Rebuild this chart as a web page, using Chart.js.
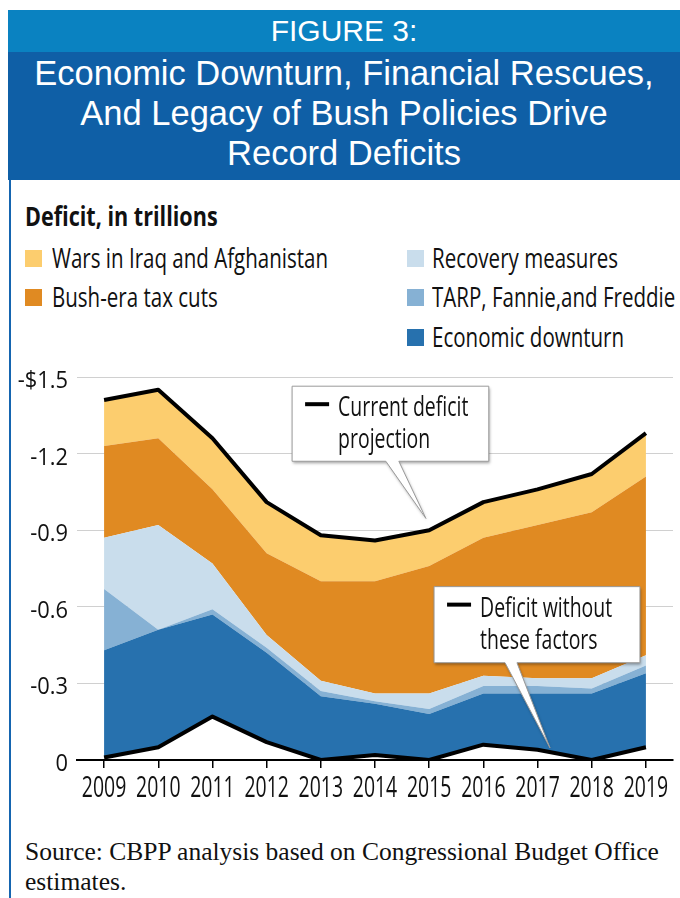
<!DOCTYPE html>
<html>
<head>
<meta charset="utf-8">
<script src="https://cdn.jsdelivr.net/npm/chart.js@4.4.0/dist/chart.umd.min.js"></script>
<style>
  body { margin: 0; width: 680px; height: 898px; position: relative; background: #fff; overflow: hidden;
         font-family: "Open Sans", sans-serif; color: #111; }
  .band1 { position: absolute; left: 8px; top: 10px; width: 672px; height: 42px; background: #0a82c1; color: #fff;
           text-align: center; font-family: "Liberation Sans", Arial, sans-serif; font-size: 30px; line-height: 42px; }
  .band2 { position: absolute; left: 8px; top: 52px; width: 672px; height: 128px; background: #0f5fa6; color: #fff;
           text-align: center; font-family: "Liberation Sans", Arial, sans-serif; font-size: 34.5px; line-height: 40px;
           padding-top: 1px; box-sizing: border-box; }
  .rule { position: absolute; left: 9px; top: 180px; width: 2px; height: 718px; background: #1565b0; }
  .txt { position: absolute; white-space: nowrap; line-height: 30px; transform-origin: 0 0; }
  .units { left: 25px; top: 201px; font-weight: bold; font-size: 26px; transform: scaleX(0.83); }
  .leg { font-size: 27px; transform: scaleX(0.76); }
  .sw { position: absolute; width: 17px; height: 17px; }
  .chartbox { position: absolute; left: 0; top: 360px; width: 680px; height: 450px; }
  .source { position: absolute; left: 25px; top: 837px; font-family: "Liberation Serif", serif; font-size: 25.5px; line-height: 30px; }
</style>
</head>
<body>
<div class="band1">FIGURE 3:</div>
<div class="band2">Economic Downturn, Financial Rescues,<br>And Legacy of Bush Policies Drive<br>Record Deficits</div>
<div class="rule"></div>
<div class="txt units">Deficit, in trillions</div>
<div class="sw" style="left:25px;top:250px;background:#fccd6e"></div>
<div class="txt leg" style="left:52px;top:243px">Wars in Iraq and Afghanistan</div>
<div class="sw" style="left:25px;top:289px;background:#e08a22"></div>
<div class="txt leg" style="left:52px;top:282px">Bush-era tax cuts</div>
<div class="sw" style="left:407px;top:250px;background:#c9ddec"></div>
<div class="txt leg" style="left:432px;top:243px">Recovery measures</div>
<div class="sw" style="left:407px;top:289px;background:#86b1d4"></div>
<div class="txt leg" style="left:432px;top:282px">TARP, Fannie,and Freddie</div>
<div class="sw" style="left:407px;top:329px;background:#2771ae"></div>
<div class="txt leg" style="left:432px;top:322px">Economic downturn</div>
<div class="chartbox"><canvas id="chart"></canvas></div>
<div class="source">Source: CBPP analysis based on Congressional Budget Office<br>estimates.</div>
<script>
// deficit pieces, trillions of dollars (shown as negative on the axis)
var years = ['2009', '2010', '2011', '2012', '2013', '2014', '2015', '2016', '2017', '2018', '2019'];
var currentDeficit = [1.41, 1.45, 1.26, 1.01, 0.88, 0.86, 0.90, 1.01, 1.06, 1.12, 1.28];
var withoutFactors = [0.01, 0.05, 0.17, 0.07, 0.00, 0.02, 0.00, 0.06, 0.04, 0.00, 0.05];
var downturn = [0.42, 0.46, 0.40, 0.35, 0.25, 0.20, 0.18, 0.20, 0.22, 0.26, 0.29];
var tarp = [0.24, 0.00, 0.02, 0.02, 0.02, 0.01, 0.02, 0.03, 0.03, 0.02, 0.03];
var recovery = [0.20, 0.41, 0.18, 0.05, 0.04, 0.03, 0.06, 0.04, 0.03, 0.04, 0.04];
var taxCuts = [0.36, 0.34, 0.29, 0.32, 0.39, 0.44, 0.50, 0.54, 0.60, 0.65, 0.70];
var wars = [0.18, 0.19, 0.20, 0.20, 0.18, 0.16, 0.14, 0.14, 0.14, 0.15, 0.17];
var yTickLabels = ['0', '-0.3', '-0.6', '-0.9', '-1.2', '-$1.5'];

var fontFamily = '"Open Sans", sans-serif';

// callout boxes, in category index / value units
var callouts = [
    { lines: ['Current deficit', 'projection'], left: 3.47, right: 7.10, top: 1.464, bottom: 1.170,
      baseL: 5.20, baseR: 5.44, tipX: 5.94, tipY: 0.946 },
    { lines: ['Deficit without', 'these factors'], left: 6.09, right: 9.89, top: 0.679, bottom: 0.381,
      baseL: 7.40, baseR: 7.62, tipX: 8.23, tipY: 0.047 }
];

// the source uses a condensed face, so squeeze the text sideways
function condText(ctx, text, x, y, size, sx, align) {
    ctx.save();
    ctx.translate(x, y);
    ctx.scale(sx, 1);
    ctx.font = size + 'px ' + fontFamily;
    ctx.fillStyle = '#111';
    ctx.textAlign = align || 'left';
    ctx.textBaseline = 'alphabetic';
    ctx.fillText(text, 0, 0);
    ctx.restore();
}

var axisLabels = {
    id: 'axisLabels',
    afterDraw: function(chart) {
        var ctx = chart.ctx, xs = chart.scales.x, ys = chart.scales.y;
        xs.ticks.forEach(function(t, i) {
            condText(ctx, xs.getLabelForValue(t.value), xs.getPixelForTick(i), xs.top + 37, 29, 0.67, 'center');
        });
        ys.ticks.forEach(function(t, i) {
            condText(ctx, yTickLabels[i], ys.left + 68, ys.getPixelForTick(i) + 11, 23, 0.95, 'right');
        });
    }
};

var calloutPlugin = {
    id: 'callouts',
    afterDatasetsDraw: function(chart) {
        var ctx = chart.ctx, xs = chart.scales.x, ys = chart.scales.y;
        callouts.forEach(function(c) {
            var l = xs.getPixelForValue(c.left), r = xs.getPixelForValue(c.right);
            var t = ys.getPixelForValue(c.top), b = ys.getPixelForValue(c.bottom);
            var bl = xs.getPixelForValue(c.baseL), br = xs.getPixelForValue(c.baseR);
            var tx = xs.getPixelForValue(c.tipX), ty = ys.getPixelForValue(c.tipY);
            ctx.save();
            ctx.beginPath();
            ctx.moveTo(l, t);
            ctx.lineTo(r, t);
            ctx.lineTo(r, b);
            ctx.lineTo(br, b);
            ctx.lineTo(tx, ty);
            ctx.lineTo(bl, b);
            ctx.lineTo(l, b);
            ctx.closePath();
            ctx.shadowColor = 'rgba(0,0,0,0.35)';
            ctx.shadowBlur = 3;
            ctx.shadowOffsetX = 1;
            ctx.shadowOffsetY = 2;
            ctx.fillStyle = '#fff';
            ctx.fill();
            ctx.shadowColor = 'transparent';
            ctx.strokeStyle = '#9a9a9a';
            ctx.lineWidth = 1;
            ctx.stroke();
            // line sample
            ctx.beginPath();
            ctx.moveTo(l + 13, t + 18);
            ctx.lineTo(l + 37, t + 18);
            ctx.strokeStyle = '#000';
            ctx.lineWidth = 4;
            ctx.stroke();
            ctx.restore();
            condText(ctx, c.lines[0], l + 46, t + 30, 27, 0.72);
            condText(ctx, c.lines[1], l + 46, t + 62, 27, 0.72);
        });
    }
};

function area(label, data, color) {
    return { label: label, data: data, backgroundColor: color, borderWidth: 0, fill: '-1',
             pointRadius: 0, tension: 0, stack: 'parts' };
}

var ctx = document.getElementById('chart').getContext('2d');
var chart = new Chart(ctx, {
    type: 'line',
    data: {
        labels: years,
        datasets: [
            { label: 'Current deficit projection', data: currentDeficit, borderColor: '#000', borderWidth: 4,
              pointRadius: 0, fill: false, tension: 0, stack: 'current', borderJoinStyle: 'round' },
            { label: 'Deficit without these factors', data: withoutFactors, borderColor: '#000', borderWidth: 4,
              pointRadius: 0, fill: false, tension: 0, stack: 'without', borderJoinStyle: 'round' },
            { label: 'base', data: withoutFactors, borderWidth: 0, pointRadius: 0, fill: false, stack: 'parts' },
            area('Economic downturn', downturn, '#2771ae'),
            area('TARP, Fannie,and Freddie', tarp, '#86b1d4'),
            area('Recovery measures', recovery, '#c9ddec'),
            area('Bush-era tax cuts', taxCuts, '#e08a22'),
            area('Wars in Iraq and Afghanistan', wars, '#fccd6e')
        ]
    },
    options: {
        responsive: true,
        maintainAspectRatio: false,
        animation: false,
        layout: { padding: { top: 17, right: 7, bottom: 0, left: 0 } },
        plugins: { legend: { display: false }, tooltip: { enabled: false } },
        scales: {
            x: {
                offset: true,
                grid: { offset: false, drawOnChartArea: false, drawTicks: true, tickLength: 8, color: '#000', lineWidth: 1.5 },
                border: { color: '#000', width: 2 },
                ticks: { display: false },
                afterFit: function(s) { s.height = 50; }
            },
            y: {
                stacked: true,
                min: 0,
                max: 1.5,
                grid: { color: '#d0d0d0', lineWidth: 1, drawTicks: false },
                border: { display: false },
                ticks: { display: false, stepSize: 0.3 },
                afterFit: function(s) { s.width = 77; }
            }
        }
    },
    plugins: [axisLabels, calloutPlugin]
});
</script>
</body>
</html>
